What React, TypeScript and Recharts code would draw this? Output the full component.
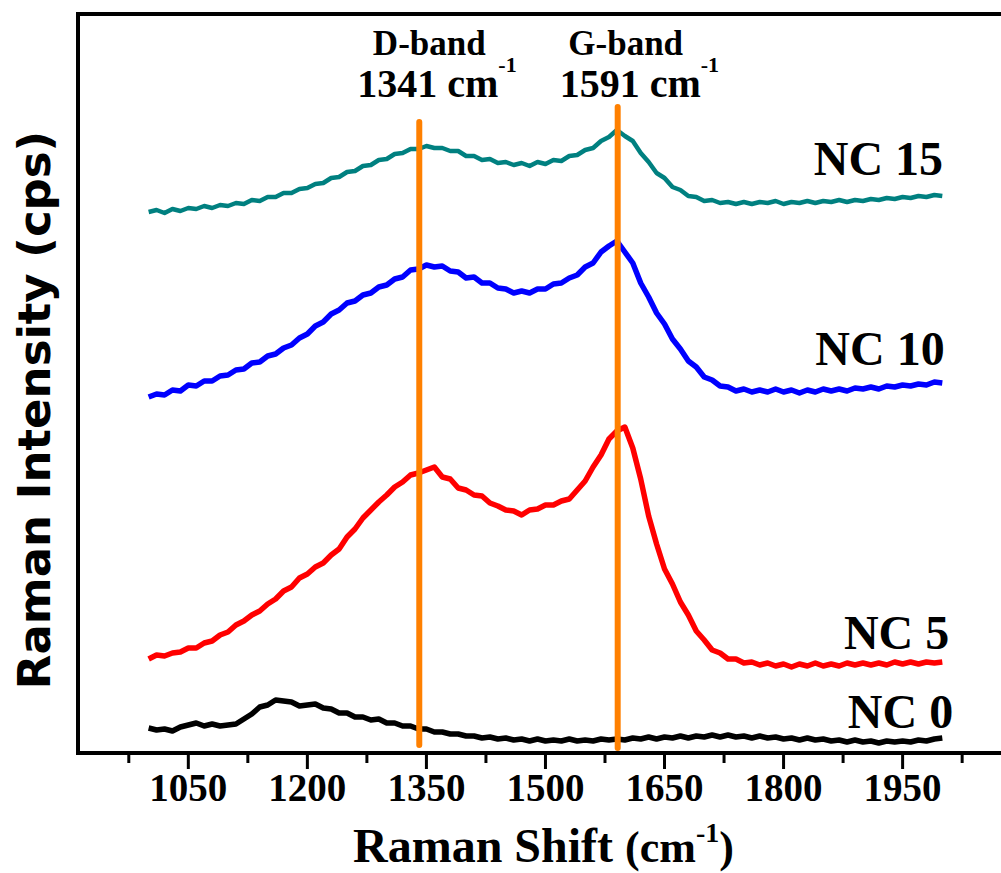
import React from 'react';
import { LineChart, Line, XAxis, YAxis, ReferenceLine, ReferenceDot, Label } from 'recharts';

// Raman shift (cm-1) sampling positions
const ramanShift = [
  1000, 1010, 1020, 1030, 1040, 1050, 1060, 1070, 1080, 1090,
  1100, 1110, 1120, 1130, 1140, 1150, 1160, 1170, 1180, 1190,
  1200, 1210, 1220, 1230, 1240, 1250, 1260, 1270, 1280, 1290,
  1300, 1310, 1320, 1330, 1340, 1350, 1360, 1370, 1380, 1390,
  1400, 1410, 1420, 1430, 1440, 1450, 1460, 1470, 1480, 1490,
  1500, 1510, 1520, 1530, 1540, 1550, 1560, 1570, 1580, 1590,
  1600, 1610, 1620, 1630, 1640, 1650, 1660, 1670, 1680, 1690,
  1700, 1710, 1720, 1730, 1740, 1750, 1760, 1770, 1780, 1790,
  1800, 1810, 1820, 1830, 1840, 1850, 1860, 1870, 1880, 1890,
  1900, 1910, 1920, 1930, 1940, 1950, 1960, 1970, 1980, 1990,
  2000,
];

// Stacked spectra (offset intensities, cps)
const nc0 = [
  25, 23, 24, 22, 26, 28, 30, 27, 29, 27,
  28, 29, 34, 39, 46, 48, 53, 52, 51, 47,
  48, 49, 45, 44, 40, 40, 36, 36, 33, 34,
  30, 30, 27, 27, 24, 24, 21, 21, 19, 19,
  17, 17, 15, 16, 14, 15, 13, 14, 12, 14,
  12, 13, 12, 14, 12, 13, 12, 14, 13, 14,
  13, 15, 14, 16, 14, 16, 15, 17, 15, 17,
  16, 18, 16, 18, 16, 17, 15, 17, 15, 16,
  14, 15, 13, 15, 13, 14, 12, 13, 11, 13,
  11, 12, 10, 12, 11, 12, 11, 13, 12, 14,
  15,
];

const nc5 = [
  94, 98, 97, 100, 101, 105, 105, 110, 112, 118,
  121, 128, 132, 138, 142, 149, 154, 162, 166, 175,
  179, 186, 190, 198, 204, 216, 224, 235, 243, 251,
  258, 266, 271, 278, 280, 283, 286, 276, 274, 265,
  263, 258, 257, 250, 247, 243, 242, 238, 243, 244,
  248, 248, 252, 254, 263, 272, 286, 298, 314, 322,
  326, 305, 274, 237, 209, 184, 169, 151, 138, 122,
  113, 103, 100, 94, 94, 90, 91, 88, 90, 87,
  89, 86, 89, 87, 90, 87, 89, 87, 90, 88,
  90, 88, 90, 88, 91, 89, 91, 89, 91, 90,
  91,
];

const nc10 = [
  356, 359, 358, 363, 362, 368, 367, 372, 372, 377,
  378, 383, 384, 390, 391, 397, 399, 405, 408, 415,
  419, 427, 431, 439, 443, 450, 452, 458, 460, 466,
  468, 474, 476, 483, 484, 488, 486, 487, 482, 481,
  475, 476, 470, 470, 465, 464, 460, 462, 460, 464,
  464, 469, 470, 475, 478, 486, 490, 501, 507, 512,
  501, 490, 470, 456, 440, 429, 414, 404, 392, 386,
  376, 373, 367, 366, 362, 364, 361, 363, 361, 364,
  361, 363, 360, 363, 361, 364, 362, 364, 362, 365,
  364, 366, 364, 367, 366, 368, 367, 369, 368, 371,
  370,
];

const nc15 = [
  541, 543, 540, 544, 542, 545, 544, 547, 545, 548,
  547, 550, 549, 553, 552, 556, 556, 560, 560, 564,
  565, 569, 570, 575, 576, 581, 582, 587, 588, 593,
  594, 599, 600, 604, 604, 607, 605, 605, 602, 602,
  597, 597, 593, 594, 590, 591, 588, 590, 587, 591,
  589, 593, 592, 597, 598, 603, 605, 612, 616, 623,
  617, 612, 600, 591, 580, 575, 566, 563, 557, 556,
  552, 553, 550, 551, 549, 551, 549, 551, 550, 552,
  549, 551, 550, 552, 550, 552, 551, 553, 551, 553,
  552, 554, 553, 555, 554, 556, 555, 557, 556, 558,
  557,
];

const majorTicks = [1050, 1200, 1350, 1500, 1650, 1800, 1950];
const minorTicks = [975, 1125, 1275, 1425, 1575, 1725, 1875, 2025];

const bandNames = ['D-band', 'G-band'];
const bandShifts = [1341, 1591];

const seriesNames = ['NC 0', 'NC 5', 'NC 10', 'NC 15'];

const data = ramanShift.map((shift, i) => ({
  shift,
  nc0: nc0[i],
  nc5: nc5[i],
  nc10: nc10[i],
  nc15: nc15[i],
}));

const allTicks = [...majorTicks, ...minorTicks].sort((a, b) => a - b);

const SERIF = "'Liberation Serif', 'Times New Roman', Times, serif";
const SANS = "'DejaVu Sans', Verdana, sans-serif";
const serifStyle = { fontFamily: SERIF, fontWeight: 700 };
const X_DOMAIN: [number, number] = [911, 2079];
const Y_DOMAIN: [number, number] = [0, 739];

// band marker extents (intensity units) and label text offsets
const bandLineSpan = [
  { from: 8, to: 631, titleDx: 10, valueDx: -62 },
  { from: 5, to: 646, titleDx: 8, valueDx: -58 },
];

// where each spectrum name sits (shift of text start, intensity of baseline)
const seriesLabelAt = [
  { x: 1881, y: 25 },
  { x: 1876, y: 104 },
  { x: 1840, y: 388 },
  { x: 1838, y: 578 },
];

const seriesKeys = ['nc0', 'nc5', 'nc10', 'nc15'];
const seriesColors = ['#000000', '#ff0000', '#0000ff', '#008080'];
const seriesWidths = [5.5, 5.5, 5.5, 4.5];

const ShiftTick = (props: any) => {
  const { x, y, payload } = props;
  const v = payload.value;
  const major = majorTicks.includes(v);
  return (
    <g>
      <line x1={x} y1={y} x2={x} y2={y + (major ? 16 : 10)} stroke="#000" strokeWidth={3} />
      {major && (
        <text x={x} y={y + 48} textAnchor="middle" style={{ ...serifStyle, fontSize: 39 }} fill="#000">
          {v}
        </text>
      )}
    </g>
  );
};

const ShiftTitle = () => (
  <text x={353} y={862} style={serifStyle} fill="#000">
    <tspan style={{ fontSize: 48 }}>Raman Shift </tspan>
    <tspan style={{ fontSize: 44 }}>(cm</tspan>
    <tspan style={{ fontSize: 28 }} dy={-20}>-1</tspan>
    <tspan style={{ fontSize: 44 }} dy={20}>)</tspan>
  </text>
);

const IntensityTitle = () => (
  <text
    transform="translate(50, 410) rotate(-90)"
    textAnchor="middle"
    style={{ fontFamily: SANS, fontWeight: 700, fontSize: 45 }}
    fill="#000"
  >
    Raman Intensity (cps)
  </text>
);

const BandText = (props: any) => {
  const { viewBox, idx } = props;
  const cx = viewBox.x;
  const span = bandLineSpan[idx];
  return (
    <g style={serifStyle} fill="#000">
      <text x={cx + span.titleDx} y={55} textAnchor="middle" style={{ fontSize: 35 }}>
        {bandNames[idx]}
      </text>
      <text x={cx + span.valueDx} y={97} style={{ fontSize: 40 }}>
        <tspan>{bandShifts[idx]} cm</tspan>
        <tspan style={{ fontSize: 22 }} dy={-25}>-1</tspan>
      </text>
    </g>
  );
};

const SeriesText = (props: any) => {
  const { viewBox, idx } = props;
  return (
    <text x={viewBox.x} y={viewBox.y} style={{ ...serifStyle, fontSize: 48 }} fill="#000">
      {seriesNames[idx]}
    </text>
  );
};

export default function App() {
  return (
    <div
      style={{
        position: 'absolute',
        left: 0,
        top: 0,
        width: 1001,
        height: 873,
        overflow: 'hidden',
        background: '#ffffff',
      }}
    >
      <LineChart width={1010} height={873} data={data} margin={{ top: 14, right: 5, left: 77, bottom: 119 }}>
        <XAxis
          xAxisId="x"
          dataKey="shift"
          type="number"
          domain={X_DOMAIN}
          allowDataOverflow
          ticks={allTicks}
          interval={0}
          height={1}
          tickSize={0}
          tickMargin={0}
          tickLine={false}
          axisLine={{ stroke: '#000', strokeWidth: 4, strokeLinecap: 'square' }}
          tick={<ShiftTick />}
        >
          <Label content={<ShiftTitle />} />
        </XAxis>
        <YAxis
          yAxisId="y"
          type="number"
          domain={Y_DOMAIN}
          allowDataOverflow
          width={1}
          tick={false}
          tickLine={false}
          axisLine={{ stroke: '#000', strokeWidth: 4, strokeLinecap: 'square' }}
        >
          <Label content={<IntensityTitle />} />
        </YAxis>

        {seriesKeys.map((k, i) => (
          <Line
            key={k}
            xAxisId="x"
            yAxisId="y"
            type="linear"
            dataKey={k}
            stroke={seriesColors[i]}
            strokeWidth={seriesWidths[i]}
            strokeLinejoin="round"
            dot={false}
            activeDot={false}
            isAnimationActive={false}
          />
        ))}

        {/* top frame */}
        <ReferenceLine
          xAxisId="x"
          yAxisId="y"
          y={Y_DOMAIN[1]}
          stroke="#000"
          strokeWidth={4}
          strokeLinecap="square"
        />

        {bandShifts.map((s, i) => (
          <ReferenceLine
            key={s}
            xAxisId="x"
            yAxisId="y"
            segment={[
              { x: s, y: bandLineSpan[i].from },
              { x: s, y: bandLineSpan[i].to },
            ]}
            stroke="#ff8000"
            strokeWidth={6}
            strokeLinecap="round"
            label={<BandText idx={i} />}
          />
        ))}

        {seriesNames.map((n, i) => (
          <ReferenceDot
            key={n}
            xAxisId="x"
            yAxisId="y"
            x={seriesLabelAt[i].x}
            y={seriesLabelAt[i].y}
            r={0}
            fill="none"
            stroke="none"
            label={<SeriesText idx={i} />}
          />
        ))}
      </LineChart>
    </div>
  );
}
